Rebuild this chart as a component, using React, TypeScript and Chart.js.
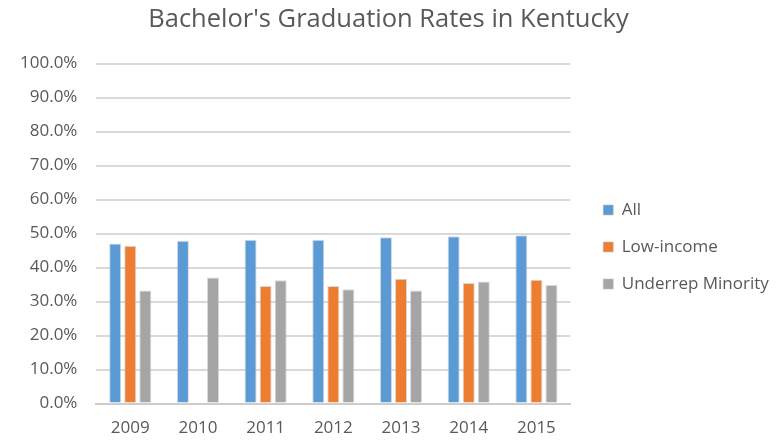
import React, { useEffect, useRef } from "react";
import { Chart, registerables } from "chart.js";

Chart.register(...registerables);

const categories = ["2009", "2010", "2011", "2012", "2013", "2014", "2015"];
const allRates = [47.1, 47.9, 48.2, 48.2, 48.9, 49.2, 49.5];
const lowIncomeRates: (number | null)[] = [46.4, null, 34.6, 34.6, 36.7, 35.5, 36.4];
const minorityRates = [33.3, 37.1, 36.3, 33.6, 33.3, 35.9, 34.9];
const seriesNames = ["All", "Low-income", "Underrep Minority"];
const seriesColors = ["#5B9BD5", "#ED7D31", "#A5A5A5"];
const titleText = "Bachelor's Graduation Rates in Kentucky";

const LEGEND_EXTRA_WIDTH = 12;
const LEGEND_SHIFT_X = 13;
const LEGEND_SHIFT_Y = 25;

const legendTweak = {
  id: "legendTweak",
  beforeUpdate(chart: any) {
    const lg = chart.legend;
    if (lg && !lg.__wrapped) {
      const orig = lg.fit;
      lg.fit = function (this: any) {
        orig.call(this);
        this.width += LEGEND_EXTRA_WIDTH;
      };
      lg.__wrapped = true;
    }
  },
  afterLayout(chart: any) {
    const lg = chart.legend;
    if (lg) {
      lg.left += LEGEND_SHIFT_X;
      lg.right += LEGEND_SHIFT_X;
      lg.top += LEGEND_SHIFT_Y;
      lg.bottom += LEGEND_SHIFT_Y;
    }
  },
};

export default function App() {
  const ref = useRef<HTMLCanvasElement | null>(null);
  useEffect(() => {
    document.body.style.margin = "0";
    const ctx = ref.current!;
    const font = "'Open Sans', sans-serif";
    const chart = new Chart(ctx, {
      type: "bar",
      data: {
        labels: categories,
        datasets: [allRates, lowIncomeRates, minorityRates].map((d, i) => ({
          label: seriesNames[i],
          data: d,
          backgroundColor: seriesColors[i],
          borderColor: "rgba(190,190,190,0.6)",
          borderWidth: 1,
          categoryPercentage: 0.667,
          barPercentage: 0.8,
        })),
      },
      plugins: [legendTweak],
      options: {
        animation: false,
        responsive: false,
        maintainAspectRatio: false,
        layout: { padding: { left: 1, right: 0, top: 4, bottom: 0 } },
        plugins: {
          title: {
            display: true,
            text: titleText,
            color: "#595959",
            font: { family: font, size: 25.5, weight: "normal" },
            padding: { top: 0, bottom: 29 },
          },
          legend: {
            position: "right",
            labels: {
              color: "#595959",
              font: { family: font, size: 17 },
              boxWidth: 10,
              boxHeight: 10,
              padding: 20,
            },
          },
          tooltip: { enabled: false },
        },
        scales: {
          x: {
            grid: { display: false, drawTicks: true, tickLength: 12 },
            border: { display: true, color: "#cccccc", width: 2 },
            ticks: { color: "#595959", font: { family: font, size: 17 }, padding: 2 },
          },
          y: {
            min: 0,
            max: 100,
            ticks: {
              stepSize: 10,
              color: "#595959",
              font: { family: font, size: 17 },
              padding: 19,
              callback: (v: any) => Number(v).toFixed(1) + "%",
            },
            grid: { color: "#d9d9d9", lineWidth: 2, drawTicks: false },
            border: { display: false },
          },
        },
      },
    });
    return () => chart.destroy();
  }, []);
  return (
    <div style={{ width: 776, height: 440 }}>
      <canvas ref={ref} width={776} height={440} style={{ width: 776, height: 440 }} />
    </div>
  );
}
